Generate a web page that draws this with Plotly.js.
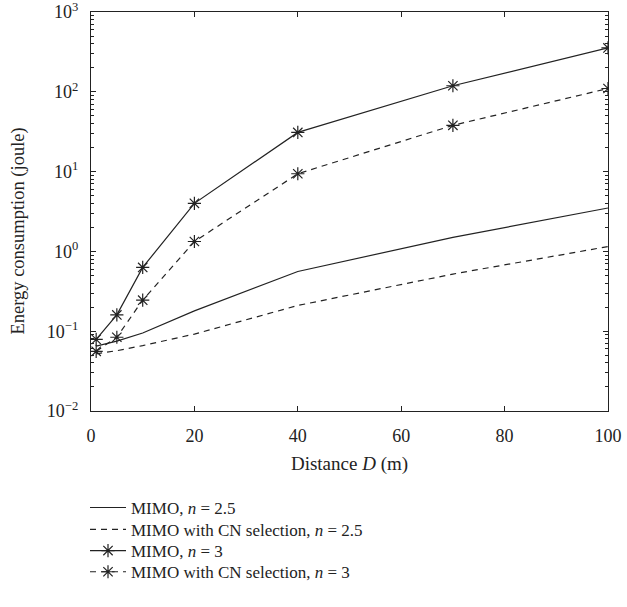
<!DOCTYPE html>
<html><head><meta charset="utf-8">
<script src="https://cdn.plot.ly/plotly-3.0.1.min.js"></script>
<style>body{margin:0;background:#fff}#c{width:627px;height:607px}</style>
</head><body><div id="c"></div>
<script>
const distance = [1, 5, 10, 20, 40, 70, 100];
const mimo25 = [0.065, 0.075, 0.095, 0.18, 0.56, 1.5, 3.5];
const mimoCN25 = [0.052, 0.057, 0.066, 0.092, 0.21, 0.52, 1.15];
const mimo3 = [0.079, 0.16, 0.63, 4.0, 31, 119, 355];
const mimoCN3 = [0.056, 0.084, 0.245, 1.33, 9.4, 38, 110];
const names = ['MIMO, <i>n</i> = 2.5', 'MIMO with CN selection, <i>n</i> = 2.5', 'MIMO, <i>n</i> = 3', 'MIMO with CN selection, <i>n</i> = 3'];
const xTicks = [0, 20, 40, 60, 80, 100];
const yTickVals = [0.01, 0.1, 1, 10, 100, 1000];
const yTickText = ['10<sup>−2</sup>', '10<sup>−1</sup>', '10<sup>0</sup>', '10<sup>1</sup>', '10<sup>2</sup>', '10<sup>3</sup>'];

const fam = 'Liberation Serif, Times New Roman, serif';
const ink = '#222';
const tickFont = {family: fam, size: 18, color: ink};
const legFont = {family: fam, size: 17, color: ink};
const mk = {symbol: 'asterisk-open', size: 11, color: ink, line: {width: 1.2, color: ink}};
const traces = [
  {x: distance, y: mimo25, name: names[0], legend: 'legend', mode: 'lines', line: {color: ink, width: 1.2}},
  {x: distance, y: mimoCN25, name: names[1], legend: 'legend2', mode: 'lines', line: {color: ink, width: 1.2, dash: '6px,5px'}},
  {x: distance, y: mimo3, name: names[2], legend: 'legend3', mode: 'lines+markers', line: {color: ink, width: 1.2}, marker: mk},
  {x: distance, y: mimoCN3, name: names[3], legend: 'legend4', mode: 'lines+markers', line: {color: ink, width: 1.2, dash: '6px,5px'}, marker: mk}
];
function leg(y) {
  return {x: -0.0116, y: y, xanchor: 'left', yanchor: 'middle', font: legFont, bgcolor: 'rgba(0,0,0,0)', itemwidth: 36};
}
const layout = {
  width: 627, height: 607,
  margin: {l: 91, r: 19, t: 12, b: 196},
  paper_bgcolor: '#fff', plot_bgcolor: '#fff',
  font: tickFont,
  showlegend: true,
  legend: leg(-0.243), legend2: leg(-0.298), legend3: leg(-0.351), legend4: leg(-0.404),
  xaxis: {
    range: [0, 100], tickvals: xTicks, ticks: 'inside', ticklen: 5, tickcolor: ink,
    showline: true, linecolor: ink, linewidth: 1.2, mirror: 'ticks', showgrid: false, zeroline: false,
    ticklabelstandoff: 8, ticklabeloverflow: 'allow',
    title: {text: 'Distance <i>D</i> (m)', font: {family: fam, size: 19, color: ink}, standoff: 12}, tickfont: tickFont
  },
  yaxis: {
    type: 'log', range: [-2, 3], tickvals: yTickVals, ticktext: yTickText,
    ticks: 'inside', ticklen: 5, tickcolor: ink,
    minor: {ticks: 'inside', ticklen: 3, tickcolor: ink, dtick: 'D1', showgrid: false},
    showline: true, linecolor: ink, linewidth: 1.2, mirror: 'ticks', showgrid: false, zeroline: false,
    ticklabelstandoff: 8, ticklabeloverflow: 'allow', tickfont: tickFont
  },
  annotations: [{
    text: 'Energy consumption (joule)', textangle: -90, xref: 'paper', yref: 'paper',
    x: -0.141, y: 0.45, xanchor: 'center', yanchor: 'middle', showarrow: false,
    font: {family: fam, size: 18.5, color: ink}
  }]
};
Plotly.newPlot('c', traces, layout, {displayModeBar: false, staticPlot: true});
</script></body></html>
